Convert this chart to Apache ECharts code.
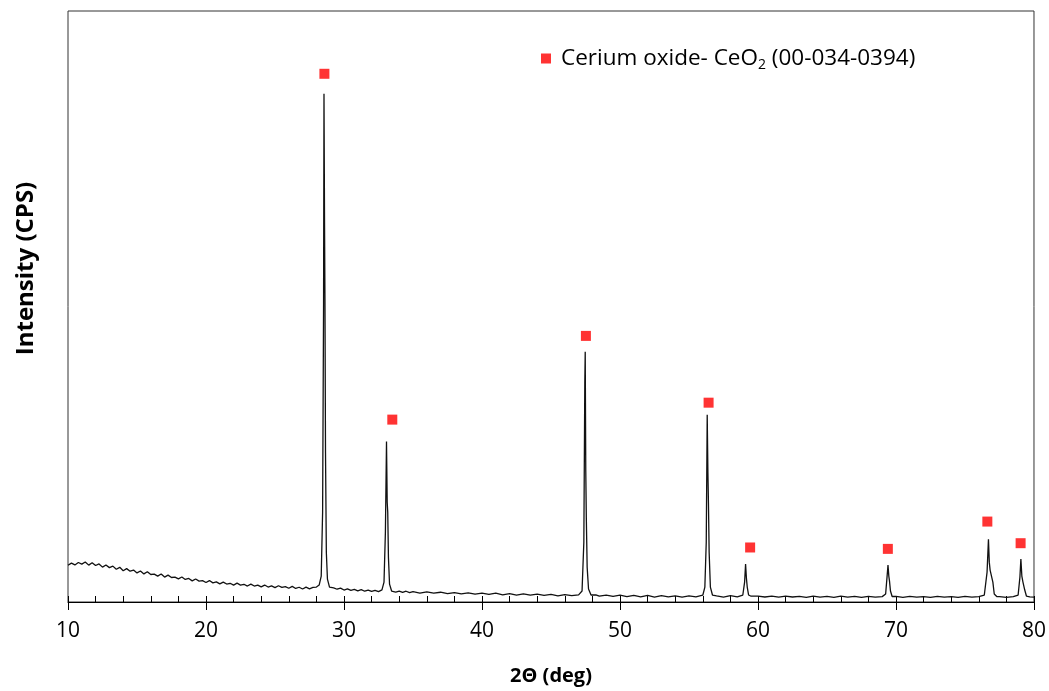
<!DOCTYPE html>
<html>
<head>
<meta charset="utf-8">
<script src="https://cdn.jsdelivr.net/npm/echarts@6/dist/echarts.min.js"></script>
<style>html,body{margin:0;padding:0;background:#fff;}#c{width:1049px;height:691px;}</style>
</head>
<body>
<div id="c"></div>
<script>
// XRD pattern: 2θ (deg) and intensity (CPS, arbitrary scale)
const twoTheta = [
 10.00,10.25,10.50,10.75,11.00,11.25,11.50,11.75,12.00,12.25,12.50,12.75,13.00,13.25,13.50,13.75,
 14.00,14.25,14.50,14.75,15.00,15.25,15.50,15.75,16.00,16.25,16.50,16.75,17.00,17.25,17.50,17.75,
 18.00,18.25,18.50,18.75,19.00,19.25,19.50,19.75,20.00,20.25,20.50,20.75,21.00,21.25,21.50,21.75,
 22.00,22.25,22.50,22.75,23.00,23.25,23.50,23.75,24.00,24.25,24.50,24.75,25.00,25.25,25.50,25.75,
 26.00,26.25,26.50,26.75,27.00,27.25,27.50,27.75,28.00,28.20,
 28.35,28.45,28.52,28.55,28.59,28.62,28.66,28.72,28.80,28.95,
 29.25,29.50,29.75,30.00,30.25,30.50,30.75,31.00,31.25,31.50,31.75,32.00,32.25,32.50,32.75,32.90,
 33.00,33.08,33.13,33.17,33.22,33.30,33.45,
 33.75,34.00,34.25,34.50,34.75,35.00,35.50,36.00,36.50,37.00,37.50,38.00,38.50,39.00,39.50,40.00,
 40.50,41.00,41.50,42.00,42.50,43.00,43.50,44.00,44.50,45.00,45.50,46.00,46.50,47.00,47.25,
 47.38,47.45,47.48,47.52,47.56,47.62,47.72,47.90,
 48.25,48.50,49.00,49.50,50.00,50.50,51.00,51.50,52.00,52.50,53.00,53.50,54.00,54.50,55.00,55.50,56.00,56.15,
 56.25,56.32,56.37,56.41,56.46,56.55,56.70,
 57.00,57.50,58.00,58.50,58.90,
 59.03,59.10,59.16,59.22,59.32,59.50,
 60.00,60.50,61.00,61.50,62.00,62.50,63.00,63.50,64.00,64.50,65.00,65.50,66.00,66.50,67.00,67.50,68.00,68.50,69.00,69.25,
 69.35,69.42,69.48,69.53,69.60,69.72,
 70.00,70.50,71.00,71.50,72.00,72.50,73.00,73.50,74.00,74.50,75.00,75.50,76.00,76.40,
 76.60,76.70,76.76,76.82,76.90,76.95,77.02,77.12,77.30,
 77.50,78.00,78.50,78.85,
 78.98,79.05,79.12,79.20,79.27,79.33,79.45,79.70,80.00
];
const intensity = [
 368,390,372,396,380,402,370,394,366,382,350,371,345,360,328,348,
 314,335,309,320,292,311,282,304,276,280,260,281,250,270,246,250,
 232,251,226,236,212,231,210,214,196,215,192,202,182,200,180,188,
 170,189,170,178,160,179,160,170,152,170,150,162,144,163,146,154,
 138,157,136,148,130,149,132,146,150,170,
 260,900,3000,5100,3800,3040,1500,500,230,150,
 142,128,139,120,131,116,126,112,124,108,120,106,117,104,122,200,
 700,1610,1000,900,450,180,110,
 100,110,96,108,94,104,90,101,88,98,84,95,82,92,78,90,
 76,88,72,84,70,82,68,78,66,76,62,74,64,72,110,
 600,2200,2510,1320,840,350,130,70,
 72,58,70,56,68,54,66,52,66,50,64,52,62,50,62,52,68,150,
 600,1880,1300,990,500,150,70,
 62,50,64,52,70,
 200,380,240,150,70,58,
 58,50,60,48,58,50,56,46,58,48,56,46,58,48,56,46,56,48,54,80,
 250,370,260,210,110,55,
 56,46,56,48,54,46,56,48,54,46,56,48,54,70,
 300,630,400,320,310,330,200,80,55,
 54,46,54,70,
 250,430,260,200,220,120,60,52,48
];
// CeO2 reference markers (00-034-0394)
const markerTheta = [28.58, 33.50, 47.53, 56.42, 59.43, 69.41, 76.62, 79.03];
const markerIntensity = [5300, 1830, 2670, 2000, 547, 533, 807, 590];
const xTicks = [10, 20, 30, 40, 50, 60, 70, 80];

const lineData = twoTheta.map((t, i) => [t, intensity[i]]);
const markerData = markerTheta.map((t, i) => [t, markerIntensity[i]]);
const FONT = '"Open Sans", sans-serif';

const chart = echarts.init(document.getElementById('c'));
chart.setOption({
  animation: false,
  backgroundColor: '#fff',
  grid: { left: 68, right: 13, top: 11, bottom: 87, show: true, borderColor: '#333', borderWidth: 1, containLabel: false },
  legend: {
    left: 536, top: 42,
    itemWidth: 10, itemHeight: 10,
    data: [{ name: 'CeO2', icon: 'rect' }],
    formatter: () => '{a|Cerium oxide- CeO}{s|2}{b| (00-034-0394)}',
    textStyle: {
      rich: {
        a: { fontFamily: FONT, fontSize: 22.5, color: '#000', padding: [0, 0, 0, 5] },
        s: { fontFamily: FONT, fontSize: 14, color: '#000', padding: [13, 0, 0, 0] },
        b: { fontFamily: FONT, fontSize: 22.5, color: '#000' }
      }
    }
  },
  xAxis: [
    {
      type: 'value', min: xTicks[0], max: xTicks[xTicks.length - 1], interval: 10,
      name: '2Θ (deg)', nameLocation: 'middle', nameGap: 64,
      nameTextStyle: { fontFamily: FONT, fontSize: 20, fontWeight: 'bold', color: '#000' },
      axisLine: { show: true, onZero: false, lineStyle: { color: '#000', width: 1 } },
      axisTick: { show: true, inside: false, length: 8, lineStyle: { color: '#000' } },
      axisLabel: { fontFamily: FONT, fontSize: 21, color: '#000', margin: 19 },
      splitLine: { show: false }
    },
    {
      type: 'value', min: 10, max: 80, interval: 2, position: 'bottom', offset: 0,
      axisLine: { show: false },
      axisTick: { show: true, inside: true, length: 6, lineStyle: { color: '#000' } },
      axisLabel: { show: false },
      splitLine: { show: false }
    }
  ],
  yAxis: {
    type: 'value', min: 0, max: 5930,
    name: 'Intensity (CPS)', nameLocation: 'middle', nameGap: 30, nameRotate: 90,
    nameTextStyle: { fontFamily: FONT, fontSize: 24, fontWeight: 'bold', color: '#000', padding: [0, 0, 0, 76] },
    axisLine: { show: false }, axisTick: { show: false }, axisLabel: { show: false }, splitLine: { show: false }
  },
  series: [
    {
      name: 'XRD', type: 'line', data: lineData, showSymbol: false, symbol: 'none',
      lineStyle: { color: '#111', width: 1.3 }, z: 2, silent: true
    },
    {
      name: 'CeO2', type: 'scatter', data: markerData, symbol: 'rect', symbolSize: 10,
      itemStyle: { color: '#ff0000' }, z: 3
    }
  ]
});
</script>
</body>
</html>
